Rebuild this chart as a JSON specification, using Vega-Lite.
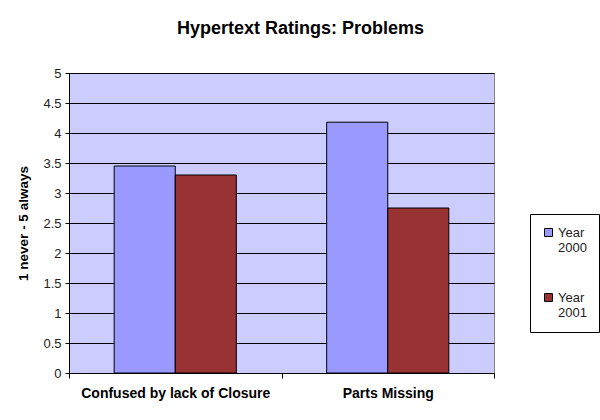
{
  "$schema": "https://vega.github.io/schema/vega-lite/v6.json",
  "autosize": "none",
  "width": 425,
  "height": 300,
  "padding": {"left": 69, "top": 73, "right": 106, "bottom": 47},
  "background": "white",
  "config": {
    "font": "Liberation Sans",
    "view": {"fill": "#CCCCFF", "stroke": "#808080", "strokeWidth": 1}
  },
  "title": {
    "text": "Hypertext Ratings: Problems",
    "fontSize": 18,
    "fontWeight": "bold",
    "color": "black",
    "anchor": "middle",
    "dx": 19,
    "offset": 29
  },
  "data": {
    "values": [
      {"category": "Confused by lack of Closure", "year": "Year 2000", "value": 3.45},
      {"category": "Confused by lack of Closure", "year": "Year 2001", "value": 3.3},
      {"category": "Parts Missing", "year": "Year 2000", "value": 4.18},
      {"category": "Parts Missing", "year": "Year 2001", "value": 2.75}
    ]
  },
  "mark": {"type": "bar", "stroke": "black", "strokeWidth": 1},
  "encoding": {
    "x": {
      "field": "category",
      "type": "nominal",
      "sort": null,
      "scale": {"paddingInner": 0, "paddingOuter": 0},
      "axis": {
        "title": null,
        "labelAngle": 0,
        "labelFontSize": 14,
        "labelFontWeight": "bold",
        "labelColor": "black",
        "labelPadding": 8,
        "labelLimit": 0,
        "labelOverlap": false,
        "domainColor": "black",
        "tickColor": "black",
        "tickSize": 5,
        "tickBand": "extent"
      }
    },
    "xOffset": {
      "field": "year",
      "type": "nominal",
      "scale": {"paddingInner": 0, "paddingOuter": 0.74}
    },
    "y": {
      "field": "value",
      "type": "quantitative",
      "scale": {"domain": [0, 5], "nice": false},
      "axis": {
        "title": "1 never - 5 always",
        "titleFontSize": 13.5,
        "titleFontWeight": "bold",
        "titleColor": "black",
        "titlePadding": 12,
        "values": [0, 0.5, 1, 1.5, 2, 2.5, 3, 3.5, 4, 4.5, 5],
        "format": "~g",
        "labelFontSize": 13,
        "labelColor": "#222222",
        "labelPadding": 4,
        "grid": true,
        "gridColor": "#000000",
        "gridOpacity": 1,
        "domainColor": "black",
        "tickColor": "black",
        "tickSize": 4
      }
    },
    "color": {
      "field": "year",
      "type": "nominal",
      "scale": {"domain": ["Year 2000", "Year 2001"], "range": ["#9999FF", "#993333"]},
      "legend": {
        "title": null,
        "orient": "none",
        "legendX": 461,
        "legendY": 141,
        "strokeColor": "black",
        "fillColor": "white",
        "padding": 12,
        "symbolType": "square",
        "symbolSize": 64,
        "symbolStrokeColor": "black",
        "symbolStrokeWidth": 1,
        "labelFontSize": 13,
        "labelColor": "#222222",
        "labelExpr": "split(datum.label, ' ')",
        "rowPadding": 36,
        "labelOffset": 3
      }
    }
  }
}
